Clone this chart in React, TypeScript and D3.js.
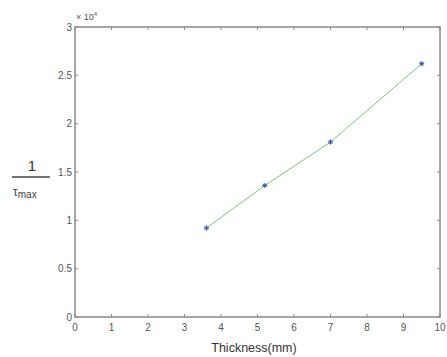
import React from 'react';
import * as d3 from 'd3';

const thickness = [3.6, 5.2, 7.0, 9.5];
const invTauMax = [9200, 13600, 18100, 26200];
const xTicks = [0, 1, 2, 3, 4, 5, 6, 7, 8, 9, 10];
const yTicks = [0, 0.5, 1, 1.5, 2, 2.5, 3];

export default function App() {
  const width = 447;
  const height = 357;
  const left = 75, right = 440, top = 27, bottom = 317;

  const x = d3.scaleLinear().domain([0, 10]).range([left, right]);
  const y = d3.scaleLinear().domain([0, 30000]).range([bottom, top]);

  const pts = thickness.map((t, i) => [x(t), y(invTauMax[i])] as [number, number]);
  const path = d3.line()(pts) || '';

  const axisColor = '#8a8a8a';
  const textColor = '#555';
  const tickLen = 3;

  const star = (cx: number, cy: number, k: number) => {
    const r = 2.6;
    return (
      <g key={k} stroke="#3a4fa8" strokeWidth={1}>
        <line x1={cx - r} y1={cy} x2={cx + r} y2={cy} />
        <line x1={cx} y1={cy - r} x2={cx} y2={cy + r} />
        <line x1={cx - r * 0.7} y1={cy - r * 0.7} x2={cx + r * 0.7} y2={cy + r * 0.7} />
        <line x1={cx - r * 0.7} y1={cy + r * 0.7} x2={cx + r * 0.7} y2={cy - r * 0.7} />
      </g>
    );
  };

  return (
    <svg width={width} height={height} style={{ position: 'absolute', left: 0, top: 0, background: '#fff' }}
      fontFamily="'Liberation Sans', Arial, sans-serif">
      <rect x={0} y={0} width={width} height={height} fill="#fff" />
      {/* box */}
      <rect x={left} y={top} width={right - left} height={bottom - top} fill="none" stroke={axisColor} strokeWidth={1.5} />
      {xTicks.map(t => (
        <g key={'x' + t}>
          <line x1={x(t)} x2={x(t)} y1={bottom} y2={bottom - tickLen} stroke={axisColor} />
          <line x1={x(t)} x2={x(t)} y1={top} y2={top + tickLen} stroke={axisColor} />
          <text x={x(t)} y={331} textAnchor="middle" fontSize={10} fill={textColor}>{t}</text>
        </g>
      ))}
      {yTicks.map(t => (
        <g key={'y' + t}>
          <line x1={left} x2={left + tickLen} y1={y(t * 10000)} y2={y(t * 10000)} stroke={axisColor} />
          <line x1={right} x2={right - tickLen} y1={y(t * 10000)} y2={y(t * 10000)} stroke={axisColor} />
          <text x={left - 3} y={y(t * 10000) + 3.5} textAnchor="end" fontSize={10} fill={textColor}>{t}</text>
        </g>
      ))}
      <text x={76} y={20} fontSize={9} fill={textColor}>× 10<tspan dy={-4} fontSize={6}>4</tspan></text>
      {/* data */}
      <path d={path} fill="none" stroke="#7cc47c" strokeWidth={1} />
      {pts.map((p, i) => star(p[0], p[1], i))}
      {/* labels */}
      <text x={254} y={352} textAnchor="middle" fontSize={12.5} fill="#333">Thickness(mm)</text>
      <text x={32} y={171} textAnchor="middle" fontSize={15} fill="#333">1</text>
      <line x1={12} x2={50} y1={177} y2={177} stroke="#444" strokeWidth={1.5} />
      <text x={13} y={196} fontSize={12} fill="#444">τ<tspan fontSize={10} dy={2}>max</tspan></text>
    </svg>
  );
}
